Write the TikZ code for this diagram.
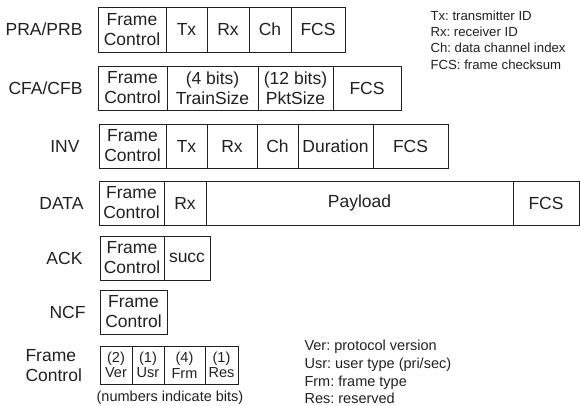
\documentclass[tikz,border=0pt]{standalone}
\usepackage{fontspec}
\setmainfont{Liberation Sans}
\usetikzlibrary{positioning}
\definecolor{ink}{HTML}{231F20}
\frenchspacing

\tikzset{
  field/.style={draw=ink, text=ink, line width=0.8pt, inner sep=0pt, outer sep=0pt,
    align=center, minimum height=44pt, font=\fontsize{17.5}{20}\selectfont},
  bitfield/.style={field, minimum height=38pt, font=\fontsize{14.5}{15.5}\selectfont},
  rowlabel/.style={anchor=east, text=ink, font=\fontsize{17.5}{20}\selectfont},
  note/.style={anchor=west, align=left, text=ink, font=\fontsize{13.2}{16.4}\selectfont},
}

\begin{document}
\begin{tikzpicture}[x=1pt, y=-1pt]
    \useasboundingbox (0,0) rectangle (581,406);

    % PRA/PRB
    \node[rowlabel] (pra) at (86,29.5) {PRA/PRB};
    \node[field, minimum width=68pt, minimum height=45pt, anchor=west] (pra-fc) at (98,29.5) {Frame\\Control};
    \node[field, minimum width=41pt, minimum height=45pt, right=0pt of pra-fc] (pra-tx) {Tx};
    \node[field, minimum width=42pt, minimum height=45pt, right=0pt of pra-tx] (pra-rx) {Rx};
    \node[field, minimum width=42pt, minimum height=45pt, right=0pt of pra-rx] (pra-ch) {Ch};
    \node[field, minimum width=54pt, minimum height=45pt, right=0pt of pra-ch] (pra-fcs) {FCS};

    % CFA/CFB
    \node[rowlabel] (cfa) at (86,88) {CFA/CFB};
    \node[field, minimum width=69pt, anchor=west] (cfa-fc) at (98,88) {Frame\\Control};
    \node[field, minimum width=91pt, right=0pt of cfa-fc] (cfa-train) {(4 bits)\\TrainSize};
    \node[field, minimum width=75pt, right=0pt of cfa-train] (cfa-pkt) {(12 bits)\\PktSize};
    \node[field, minimum width=68pt, right=0pt of cfa-pkt] (cfa-fcs) {FCS};

    % INV
    \node[rowlabel] (inv) at (83,146) {INV};
    \node[field, minimum width=67pt, anchor=west] (inv-fc) at (99,146) {Frame\\Control};
    \node[field, minimum width=41pt, right=0pt of inv-fc] (inv-tx) {Tx};
    \node[field, minimum width=50pt, right=0pt of inv-tx] (inv-rx) {Rx};
    \node[field, minimum width=41pt, right=0pt of inv-rx] (inv-ch) {Ch};
    \node[field, minimum width=75pt, right=0pt of inv-ch] (inv-dur) {Duration};
    \node[field, minimum width=75pt, right=0pt of inv-dur] (inv-fcs) {FCS};

    % DATA
    \node[rowlabel] (data) at (87,203) {DATA};
    \node[field, minimum width=65pt, anchor=west] (data-fc) at (99,203) {Frame\\Control};
    \node[field, minimum width=42pt, right=0pt of data-fc] (data-rx) {Rx};
    \node[field, minimum width=307pt, right=0pt of data-rx] (data-pay) {Payload};
    \node[field, minimum width=66pt, right=0pt of data-pay] (data-fcs) {FCS};

    % ACK
    \node[rowlabel] (ack) at (86,258) {ACK};
    \node[field, minimum width=64pt, anchor=west] (ack-fc) at (100,258) {Frame\\Control};
    \node[field, minimum width=46pt, right=0pt of ack-fc] (ack-succ) {succ};

    % NCF
    \node[rowlabel] (ncf) at (89,312) {NCF};
    \node[field, minimum width=67pt, anchor=west] (ncf-fc) at (100,312) {Frame\\Control};

    % frame control bits
    \node[anchor=west, align=left, text=ink, font=\fontsize{17.5}{20}\selectfont] (fc) at (22,366) {Frame\\Control};
    \node[bitfield, minimum width=32pt, anchor=west] (fc-ver) at (100,365) {(2)\\Ver};
    \node[bitfield, minimum width=32pt, right=0pt of fc-ver] (fc-usr) {(1)\\Usr};
    \node[bitfield, minimum width=41pt, right=0pt of fc-usr] (fc-frm) {(4)\\Frm};
    \node[bitfield, minimum width=33pt, right=0pt of fc-frm] (fc-res) {(1)\\Res};
    \node[text=ink, font=\fontsize{14.5}{16}\selectfont] (bits) at (170,398) {(numbers indicate bits)};

    % legends
    \node[note] (abbr) at (427,40) {Tx: transmitter ID\\Rx: receiver ID\\Ch: data channel index\\FCS: frame checksum};
    \node[note, font=\fontsize{14.5}{17.7}\selectfont] (fcabbr) at (301,372) {Ver: protocol version\\Usr: user type (pri/sec)\\Frm: frame type\\Res: reserved};
\end{tikzpicture}
\end{document}
